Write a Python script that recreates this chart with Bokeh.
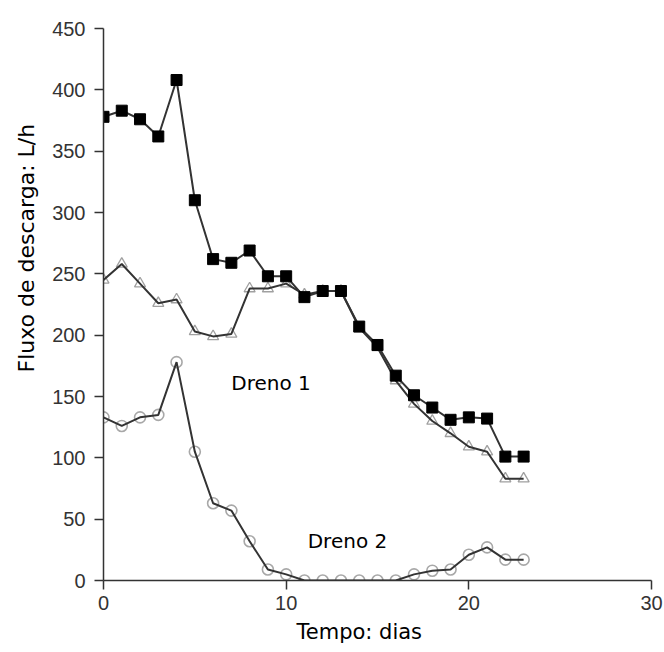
import math
from bokeh.plotting import figure
from bokeh.models import Range1d, FixedTicker, Label, ColumnDataSource, Title
from bokeh.embed import file_html
from bokeh.resources import INLINE

# ---- data ----
dias = list(range(24))
serie_quadrados = [378, 383, 376, 362, 408, 310, 262, 259, 269, 248, 248, 231,
                   236, 236, 207, 192, 167, 151, 141, 131, 133, 132, 101, 101]
serie_triangulos = [245, 258, 242, 226, 229, 203, 199, 201, 238, 238, 242, 233,
                    236, 236, 206, 190, 163, 144, 130, 120, 109, 105, 83, 83]
serie_circulos = [133, 126, 133, 135, 178, 105, 63, 57, 32, 9, 5, 0,
                  0, 0, 0, 0, 0, 5, 8, 9, 21, 27, 17, 17]
x_ticks = [0, 10, 20, 30]
y_ticks = [0, 50, 100, 150, 200, 250, 300, 350, 400, 450]
titulo_x = "Tempo: dias"
titulo_y = "Fluxo de descarga: L/h"
rotulo_1 = "Dreno 1"
rotulo_2 = "Dreno 2"

src = ColumnDataSource(dict(x=dias, q=serie_quadrados, t=serie_triangulos, c=serie_circulos))

p = figure(width=664, height=652, output_backend="svg", toolbar_location=None,
           x_range=Range1d(0, 30), y_range=Range1d(0, 450),
           min_border_left=102, min_border_right=13, min_border_top=28, min_border_bottom=72)
p.outline_line_color = None
p.xgrid.visible = False
p.ygrid.visible = False
p.background_fill_color = "white"
p.border_fill_color = "white"

for ax, ticks in ((p.xaxis, x_ticks), (p.yaxis, y_ticks)):
    ax.ticker = FixedTicker(ticks=ticks)
    ax.axis_line_color = "#333333"
    ax.axis_line_width = 1.5
    ax.major_tick_line_color = "#333333"
    ax.major_tick_line_width = 1.5
    ax.major_tick_in = 0
    ax.major_tick_out = 9
    ax.minor_tick_line_color = None
    ax.major_label_text_font = "Liberation Sans"
    ax.major_label_text_font_size = "20px"
    ax.major_label_text_color = "#333333"
p.xaxis.major_label_standoff = 6
p.yaxis.major_label_standoff = 9

line_col = "#333333"
# open markers (under lines)
p.scatter("x", "c", source=src, marker="circle", size=11, fill_color=None,
          line_color="#a8a8a8", line_width=1.6)
p.scatter("x", "t", source=src, marker="triangle", size=11, fill_color="white",
          line_color="#a0a0a0", line_width=1.3)
p.line("x", "c", source=src, line_color=line_col, line_width=2)
p.line("x", "t", source=src, line_color=line_col, line_width=2)
p.line("x", "q", source=src, line_color=line_col, line_width=2)
p.scatter("x", "q", source=src, marker="square", size=11, fill_color="black",
          line_color="black", line_width=1)

font = "DejaVu Sans"
p.add_layout(Label(x=7.0, y=161.4, text=rotulo_1, text_font=font, text_font_size="20px",
                   text_color="black", text_align="left", text_baseline="alphabetic"))
p.add_layout(Label(x=11.18, y=32.0, text=rotulo_2, text_font=font, text_font_size="20px",
                   text_color="black", text_align="left", text_baseline="alphabetic"))

tx = Title(text=titulo_x, align="left", offset=193, standoff=10,
           text_font=font, text_font_size="21px", text_font_style="normal",
           text_color="black")
p.add_layout(tx, "below")
ty = Title(text=titulo_y, align="left", offset=208, standoff=22,
           text_font=font, text_font_size="22px", text_font_style="normal",
           text_color="black")
p.add_layout(ty, "left")

open("out.html", "w").write(file_html(p, INLINE))
